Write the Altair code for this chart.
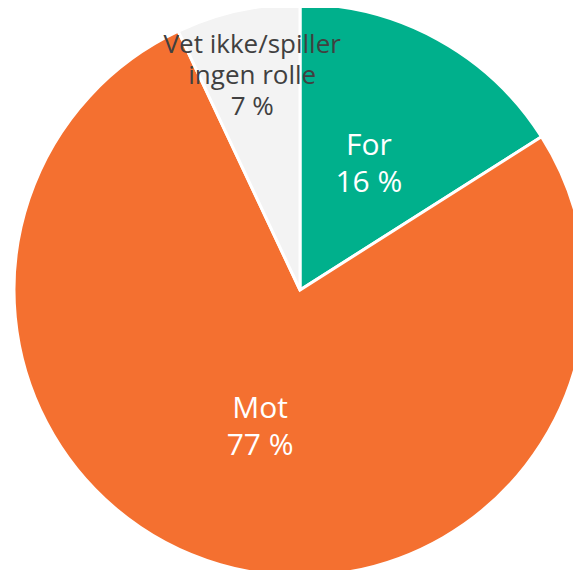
import altair as alt
import pandas as pd

categories = ["For", "Mot", "Vet ikke/spiller ingen rolle"]
values = [16, 77, 7]
labels = ["For\n16 %", "Mot\n77 %", "Vet ikke/spiller\ningen rolle\n7 %"]
colors = ["#00B08C", "#F47030", "#F3F3F3"]
text_colors = ["white", "white", "#404040"]

df = pd.DataFrame({
    "kategori": categories,
    "verdi": values,
    "etikett": labels,
    "orden": [0, 1, 2],
    "tekstfarge": text_colors,
})

CX, CY, R = 292, 282, 286

pie = alt.Chart(df).mark_arc(radius=R, stroke="white", strokeWidth=3).encode(
    theta=alt.Theta("verdi:Q", stack=True),
    order=alt.Order("orden:Q"),
    x=alt.value(CX),
    y=alt.value(CY),
    color=alt.Color("kategori:N", scale=alt.Scale(domain=categories, range=colors), legend=None),
)


def label_layer(filter_expr, radius, font_size, line_height):
    return alt.Chart(df).transform_joinaggregate(
        total="sum(verdi)"
    ).transform_window(
        cum="sum(verdi)", sort=[alt.SortField("orden")], frame=[None, 0]
    ).transform_calculate(
        ang="(datum.cum - datum.verdi / 2) / datum.total * 2 * PI",
        n="length(split(datum.etikett, '\\n'))",
    ).transform_calculate(
        px=f"{CX} + {radius} * sin(datum.ang)",
        py=f"{CY} - {radius} * cos(datum.ang) - (datum.n - 1) / 2 * {line_height}",
    ).transform_filter(filter_expr).mark_text(
        font="Open Sans", fontSize=font_size, lineBreak="\n", lineHeight=line_height,
        baseline="middle", align="center",
    ).encode(
        x=alt.X("px:Q", scale=None),
        y=alt.Y("py:Q", scale=None),
        text="etikett:N",
        color=alt.Color("tekstfarge:N", scale=None),
    )


big = label_layer("datum.orden < 2", 143, 30, 37)
small = label_layer("datum.orden == 2", 219, 26, 31)

chart = alt.layer(pie, big, small).properties(
    width=565, height=562, padding=0, autosize=alt.AutoSizeParams(type="none")
).resolve_scale(x="independent", y="independent").configure_view(stroke=None)

chart.save("out.html", embed_options={"renderer": "svg", "actions": False})
